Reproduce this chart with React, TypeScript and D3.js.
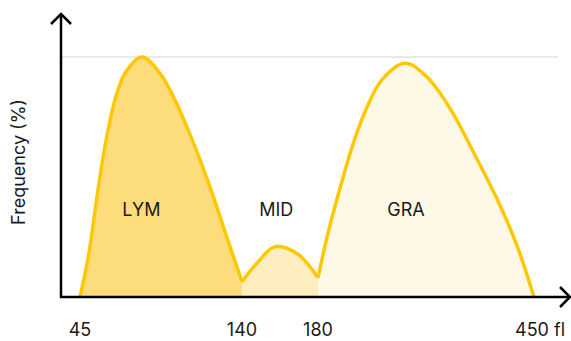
import React from "react";
import * as d3 from "d3";

const xTicks = [45, 140, 180, 450];
const tickLabels = ["45", "140", "180", "450 fl"];
const populations = ["LYM", "MID", "GRA"];
const popLabelX = [81, 158, 290];

const lymX = [45, 49.9, 52.8, 56.7, 60.7, 65.5, 71.4, 81.2, 91.9, 99.7, 107.6, 115.4, 123.2, 131.0, 140];
const lymY = [0, 16.8, 30.7, 50.1, 66.8, 82.1, 93.2, 100, 93.2, 83.5, 71.0, 57.1, 41.8, 25.1, 6.4];
const midX = [140, 147.7, 157.4, 168.8, 175.8, 180];
const midY = [6.4, 14.0, 21.0, 18.2, 12.6, 8.0];
const graX = [180, 192.9, 207.5, 222.1, 238.8, 259.6, 288.8, 315.9, 345, 374.1, 403.4, 428.4, 450];
const graY = [8.0, 27.2, 45.3, 62.0, 77.2, 90.4, 97.4, 91.8, 78.6, 60.5, 41.1, 21.7, 0];

const fills = ["#FDDC7B", "#FEEDBF", "#FEF8E7"];
const stroke = "#FFC802";

export default function App() {
  const W = 571, H = 341;
  const x = d3.scaleLinear().domain(xTicks).range([80, 242, 318, 534]);
  const y = d3.scaleLinear().domain([0, 100]).range([297, 57]);
  const segs = [
    lymX.map((v, i) => [v, lymY[i]]),
    midX.map((v, i) => [v, midY[i]]),
    graX.map((v, i) => [v, graY[i]]),
  ] as [number, number][][];
  const curve = d3.curveCatmullRom.alpha(0.5);
  const area = d3.area<[number, number]>()
    .x(d => x(d[0])).y0(y(0)).y1(d => y(d[1]))
    .curve(curve);
  const line = d3.line<[number, number]>()
    .x(d => x(d[0])).y(d => y(d[1]))
    .curve(curve);
  const font = "Inter, 'Noto Sans', sans-serif";
  const axisY = y(0);
  return (
    <svg width={W} height={H} style={{ position: "absolute", left: 0, top: 0 }} fontFamily={font}>
      <line x1={61} x2={558} y1={y(100)} y2={y(100)} stroke="#E2E2E2" strokeWidth={1.5} />
      {segs.map((s, i) => (
        <path key={"a" + i} d={area(s) || ""} fill={fills[i]} />
      ))}
      {segs.map((s, i) => (
        <path key={"l" + i} d={line(s) || ""} fill="none" stroke={stroke} strokeWidth={3.5} strokeLinejoin="round" />
      ))}
      {populations.map((p, i) => (
        <text key={p} x={x(popLabelX[i])} y={216} textAnchor="middle" fontSize={18} fill="#1a1a1a">{p}</text>
      ))}
      <line x1={61} y1={14} x2={61} y2={axisY + 1} stroke="#000" strokeWidth={2.5} />
      <line x1={60} y1={axisY} x2={570} y2={axisY} stroke="#000" strokeWidth={2.5} />
      <polyline points={`51,24 61,14 71,24`} fill="none" stroke="#000" strokeWidth={2.5} strokeLinejoin="miter" />
      <polyline points={`560,287 570,297 560,307`} fill="none" stroke="#000" strokeWidth={2.5} strokeLinejoin="miter" />
      {xTicks.map((t, i) => (
        i < xTicks.length - 1 ? (
          <text key={t} x={x(t)} y={336} textAnchor="middle" fontSize={18} fill="#1a1a1a">{tickLabels[i]}</text>
        ) : (
          <text key={t} x={x(t) - 19} y={336} textAnchor="start" fontSize={18} fill="#1a1a1a">{tickLabels[i]}</text>
        )
      ))}
      <text transform={`translate(25,162) rotate(-90)`} textAnchor="middle" fontSize={18} fill="#1a1a1a">Frequency (%)</text>
    </svg>
  );
}
